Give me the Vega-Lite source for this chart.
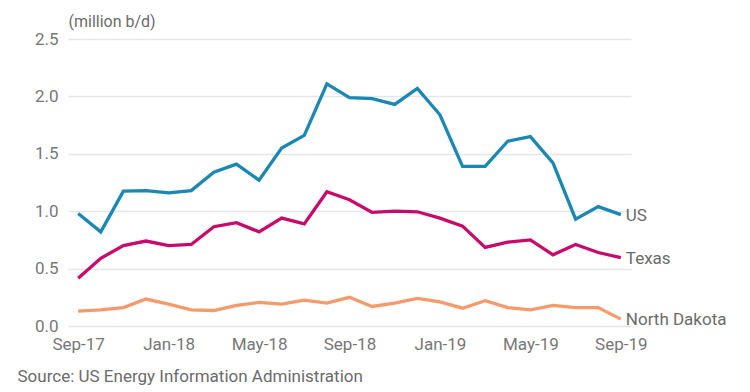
{
  "$schema": "https://vega.github.io/schema/vega-lite/v6.json",
  "autosize": {"type": "none"},
  "padding": {"left": 68, "top": 39, "right": 119, "bottom": 66},
  "width": 563,
  "height": 287,
  "background": "white",
  "config": {
    "view": {"stroke": null},
    "font": "Roboto"
  },
  "data": {
    "values": [
      {"m": "Sep-17", "US": 0.98, "Texas": 0.415, "North Dakota": 0.13},
      {"m": "Oct-17", "US": 0.82, "Texas": 0.59, "North Dakota": 0.14},
      {"m": "Nov-17", "US": 1.175, "Texas": 0.70, "North Dakota": 0.16},
      {"m": "Dec-17", "US": 1.18, "Texas": 0.74, "North Dakota": 0.235},
      {"m": "Jan-18", "US": 1.16, "Texas": 0.70, "North Dakota": 0.19},
      {"m": "Feb-18", "US": 1.18, "Texas": 0.71, "North Dakota": 0.14},
      {"m": "Mar-18", "US": 1.34, "Texas": 0.865, "North Dakota": 0.135},
      {"m": "Apr-18", "US": 1.41, "Texas": 0.90, "North Dakota": 0.18},
      {"m": "May-18", "US": 1.27, "Texas": 0.82, "North Dakota": 0.205},
      {"m": "Jun-18", "US": 1.55, "Texas": 0.94, "North Dakota": 0.19},
      {"m": "Jul-18", "US": 1.66, "Texas": 0.89, "North Dakota": 0.225},
      {"m": "Aug-18", "US": 2.11, "Texas": 1.17, "North Dakota": 0.20},
      {"m": "Sep-18", "US": 1.99, "Texas": 1.10, "North Dakota": 0.25},
      {"m": "Oct-18", "US": 1.98, "Texas": 0.99, "North Dakota": 0.17},
      {"m": "Nov-18", "US": 1.93, "Texas": 1.00, "North Dakota": 0.20},
      {"m": "Dec-18", "US": 2.07, "Texas": 0.995, "North Dakota": 0.24},
      {"m": "Jan-19", "US": 1.84, "Texas": 0.94, "North Dakota": 0.21},
      {"m": "Feb-19", "US": 1.39, "Texas": 0.87, "North Dakota": 0.155},
      {"m": "Mar-19", "US": 1.39, "Texas": 0.685, "North Dakota": 0.22},
      {"m": "Apr-19", "US": 1.61, "Texas": 0.73, "North Dakota": 0.16},
      {"m": "May-19", "US": 1.65, "Texas": 0.75, "North Dakota": 0.14},
      {"m": "Jun-19", "US": 1.42, "Texas": 0.62, "North Dakota": 0.18},
      {"m": "Jul-19", "US": 0.93, "Texas": 0.71, "North Dakota": 0.16},
      {"m": "Aug-19", "US": 1.04, "Texas": 0.64, "North Dakota": 0.16},
      {"m": "Sep-19", "US": 0.97, "Texas": 0.595, "North Dakota": 0.06}
    ]
  },
  "transform": [
    {"fold": ["US", "Texas", "North Dakota"], "as": ["series", "value"]}
  ],
  "encoding": {
    "x": {
      "field": "m",
      "type": "ordinal",
      "sort": null,
      "scale": {"type": "point", "padding": 0.45},
      "axis": {
        "values": ["Sep-17", "Jan-18", "May-18", "Sep-18", "Jan-19", "May-19", "Sep-19"],
        "labelAngle": 0,
        "labelFontSize": 17,
        "labelColor": "#777777",
        "labelPadding": 10,
        "ticks": false,
        "domain": false,
        "grid": false,
        "title": "Source: US Energy Information Administration",
        "titleFontSize": 17,
        "titleFontWeight": "normal",
        "titleColor": "#6b6b6b",
        "titleAnchor": "start",
        "titleAlign": "left",
        "titleBaseline": "middle",
        "titleX": -51,
        "titleY": 50
      }
    },
    "y": {
      "field": "value",
      "type": "quantitative",
      "scale": {"domain": [0, 2.5], "nice": false},
      "axis": {
        "values": [0, 0.5, 1, 1.5, 2, 2.5],
        "format": ".1f",
        "labelFontSize": 17,
        "labelColor": "#777777",
        "labelPadding": 10,
        "ticks": false,
        "domain": false,
        "gridColor": "#e6e6e6",
        "gridWidth": 1.5,
        "title": "(million b/d)",
        "titleAngle": 0,
        "titleFontSize": 16,
        "titleFontWeight": "normal",
        "titleColor": "#6b6b6b",
        "titleAlign": "left",
        "titleBaseline": "middle",
        "titleX": 0,
        "titleY": -18
      }
    },
    "color": {
      "field": "series",
      "type": "nominal",
      "scale": {
        "domain": ["US", "Texas", "North Dakota"],
        "range": ["#1a87b5", "#c80a6a", "#f79a6b"]
      },
      "legend": null
    }
  },
  "layer": [
    {"mark": {"type": "line", "strokeWidth": 3.3, "strokeJoin": "miter"}},
    {
      "transform": [{"filter": "datum.m == 'Sep-19'"}],
      "mark": {"type": "text", "align": "left", "baseline": "middle", "dx": 5, "dy": 1, "fontSize": 17, "color": "#6b6b6b"},
      "encoding": {
        "text": {"field": "series"},
        "color": {"value": "#6b6b6b"}
      }
    }
  ]
}
